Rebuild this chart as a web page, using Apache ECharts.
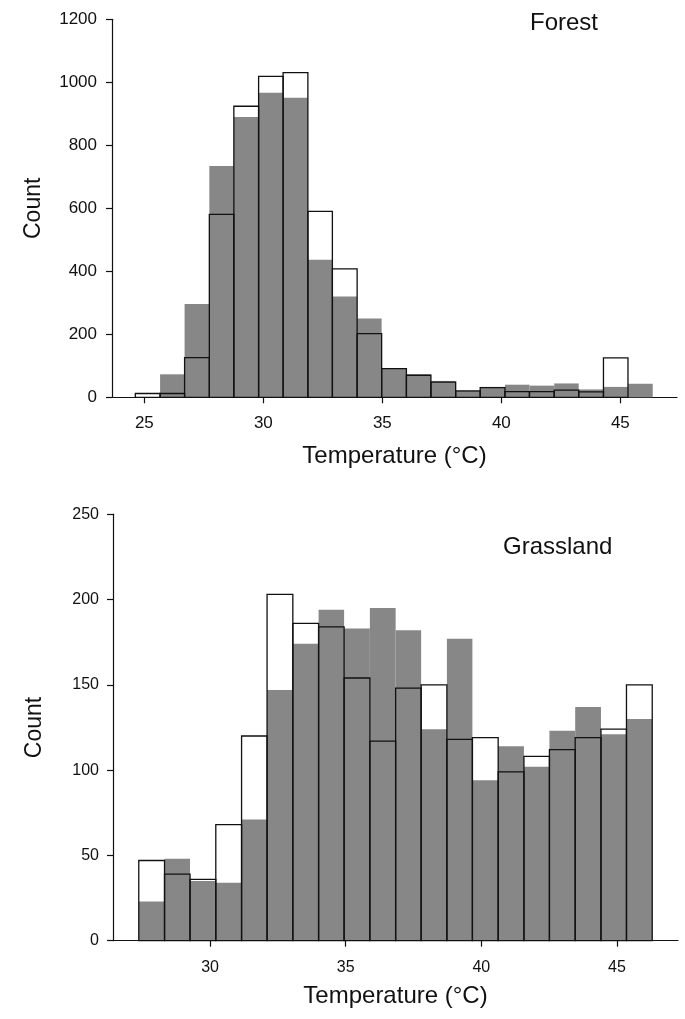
<!DOCTYPE html>
<html>
<head>
<meta charset="utf-8">
<script src="https://cdn.jsdelivr.net/npm/echarts@6/dist/echarts.min.js"></script>
<style>
html,body{margin:0;padding:0;background:#fff;}
#chart{width:685px;height:1019px;}
</style>
</head>
<body>
<div id="chart"></div>
<script>
// ---------- Forest panel ----------
var forestEdges = [24.62, 25.66, 26.69, 27.73, 28.76, 29.80, 30.83, 31.87, 32.90, 33.94, 34.97,
                   36.01, 37.04, 38.08, 39.11, 40.15, 41.18, 42.22, 43.25, 44.29, 45.32, 46.36];
var forestShaded = [0, 73, 296, 734, 890, 967, 951, 437, 320, 250, 92, 73, 52, 18, 33, 40, 37, 44, 25, 33, 43];
var forestOpen   = [12, 12, 126, 581, 924, 1019, 1031, 590, 408, 202, 91, 70, 48, 20, 31, 18, 18, 23, 17, 125, 0];
var forestXTicks = [25, 30, 35, 40, 45];

// ---------- Grassland panel ----------
var grassEdges = [27.37, 28.32, 29.26, 30.21, 31.16, 32.10, 33.05, 34.00, 34.94, 35.89, 36.84,
                  37.78, 38.73, 39.67, 40.62, 41.57, 42.51, 43.46, 44.41, 45.35, 46.30];
var grassShaded = [23, 48, 35, 34, 71, 147, 174, 194, 183, 195, 182, 124, 177, 94, 114, 102, 123, 137, 121, 130];
var grassOpen   = [47, 39, 36, 68, 120, 203, 186, 184, 154, 117, 148, 150, 118, 119, 99, 108, 112, 119, 124, 150];
var grassXTicks = [30, 35, 40, 45];

var FONT = "'Liberation Sans', Arial, Helvetica, sans-serif";

function binData(edges, values) {
  var out = [];
  for (var i = 0; i < values.length; i++) out.push([edges[i], edges[i + 1], values[i]]);
  return out;
}

function makeRender(fill, stroke, lw) {
  return function (params, api) {
    var v = api.value(2);
    if (!v) return null;
    var p0 = api.coord([api.value(0), v]);
    var p1 = api.coord([api.value(1), 0]);
    return {
      type: 'rect',
      shape: { x: p0[0], y: p0[1], width: p1[0] - p0[0], height: p1[1] - p0[1] },
      style: { fill: fill, stroke: stroke, lineWidth: lw }
    };
  };
}

function plain(v) { return String(v); }

function xAxisCfg(gridIndex, min, max, ticks, fs, margin, nameGap) {
  return {
    type: 'value', gridIndex: gridIndex, min: min, max: max,
    name: 'Temperature (°C)', nameLocation: 'middle', nameGap: nameGap,
    nameTextStyle: { fontFamily: FONT, fontSize: 24, color: '#111' },
    axisLine: { show: true, onZero: false, lineStyle: { color: '#111', width: 1.2 } },
    axisTick: { show: true, length: 6, customValues: ticks, lineStyle: { color: '#111', width: 1.2 } },
    axisLabel: { customValues: ticks, formatter: plain, fontFamily: FONT, fontSize: fs, color: '#111', margin: margin },
    splitLine: { show: false }
  };
}

function yAxisCfg(gridIndex, max, interval, fs, margin) {
  return {
    type: 'value', gridIndex: gridIndex, min: 0, max: max, interval: interval,
    name: 'Count', nameLocation: 'middle', nameGap: 67, nameRotate: 90,
    nameTextStyle: { fontFamily: FONT, fontSize: 23, color: '#111' },
    axisLine: { show: true, onZero: false, lineStyle: { color: '#111', width: 1.2 } },
    axisTick: { show: true, length: 6, lineStyle: { color: '#111', width: 1.2 } },
    axisLabel: { formatter: plain, fontFamily: FONT, fontSize: fs, color: '#111', margin: margin },
    splitLine: { show: false }
  };
}

var GREY = '#878787';

var option = {
  animation: false,
  backgroundColor: '#fff',
  title: [
    { text: 'Forest', left: 530, top: 11, padding: 0,
      textStyle: { fontFamily: FONT, fontSize: 24, fontWeight: 'normal', color: '#111' } },
    { text: 'Grassland', left: 503, top: 535, padding: 0,
      textStyle: { fontFamily: FONT, fontSize: 24, fontWeight: 'normal', color: '#111' } }
  ],
  grid: [
    { left: 112, top: 19.3, width: 565, height: 378 },
    { left: 113, top: 514.2, width: 565, height: 426.5 }
  ],
  xAxis: [
    xAxisCfg(0, 23.64, 47.38, forestXTicks, 17, 18, 47),
    xAxisCfg(1, 26.42, 47.25, grassXTicks, 16, 19, 44)
  ],
  yAxis: [
    yAxisCfg(0, 1200, 200, 17, 15),
    yAxisCfg(1, 250, 50, 16, 14)
  ],
  series: [
    { type: 'custom', name: 'Forest shaded', xAxisIndex: 0, yAxisIndex: 0,
      renderItem: makeRender(GREY, null, 0), data: binData(forestEdges, forestShaded) },
    { type: 'custom', name: 'Forest open', xAxisIndex: 0, yAxisIndex: 0,
      renderItem: makeRender('transparent', '#111', 1.3), data: binData(forestEdges, forestOpen) },
    { type: 'custom', name: 'Grassland shaded', xAxisIndex: 1, yAxisIndex: 1,
      renderItem: makeRender(GREY, null, 0), data: binData(grassEdges, grassShaded) },
    { type: 'custom', name: 'Grassland open', xAxisIndex: 1, yAxisIndex: 1,
      renderItem: makeRender('transparent', '#111', 1.3), data: binData(grassEdges, grassOpen) }
  ]
};

var chart = echarts.init(document.getElementById('chart'), null, { renderer: 'canvas' });
chart.setOption(option);
</script>
</body>
</html>
